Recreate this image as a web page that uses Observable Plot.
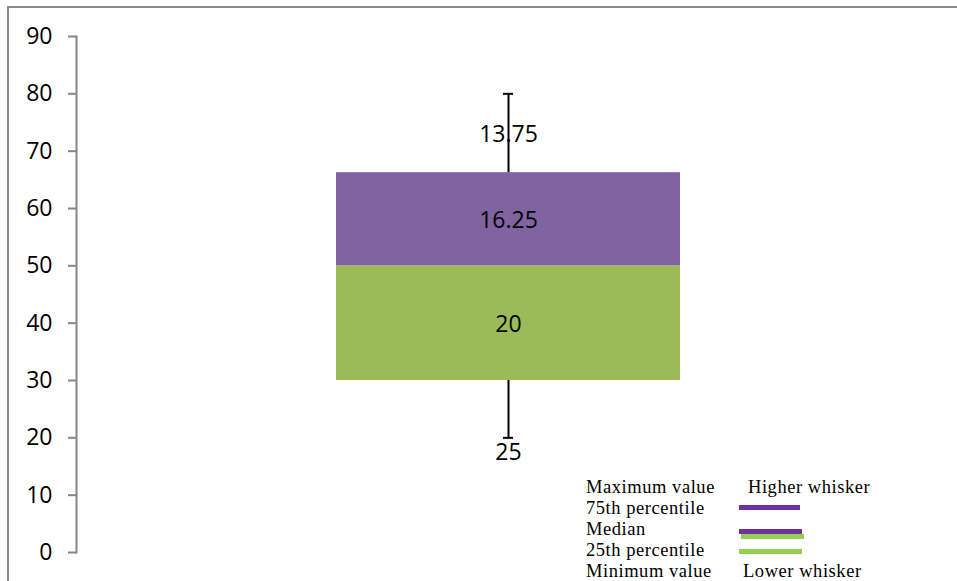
<!DOCTYPE html>
<html><head><meta charset="utf-8">
<script src="https://cdn.jsdelivr.net/npm/d3@7"></script>
<script src="https://cdn.jsdelivr.net/npm/@observablehq/plot@0.6"></script>
<style>
body{margin:0;background:#fff;}
#wrap{position:relative;width:957px;height:581px;overflow:hidden;background:#fff;}
#border{position:absolute;left:7px;top:6px;width:1000px;height:700px;border-left:2px solid #8a8a8a;border-top:2px solid #8a8a8a;}
#chart{position:absolute;left:0;top:0;}
.leg{position:absolute;font-family:"Liberation Serif","Times New Roman",serif;font-size:18.5px;letter-spacing:0.55px;line-height:21px;color:#000;white-space:nowrap;}
.sw{position:absolute;height:5px;}
</style></head>
<body>
<div id="wrap">
  <div id="border"></div>
  <div id="chart"></div>
</div>
<script>
// ---- data ----
const category = ["Box"];
const minimumValue = [20];
const percentile25 = [30];
const medianValue = [50];
const percentile75 = [66.25];
const maximumValue = [80];
const segmentLabels = ["13.75", "16.25", "20", "25"];
const yTicks = [0, 10, 20, 30, 40, 50, 60, 70, 80, 90];
const legendLabels = ["Maximum value", "75th percentile", "Median", "25th percentile", "Minimum value"];
const whiskerLabels = ["Higher whisker", "Lower whisker"];

// ---- styles ----
const purple = "#8064A2", green = "#9BBB59";
const legPurple = "#7030A0", legGreen = "#92D050";

const rows = category.map((c, i) => ({
  cat: c, min: minimumValue[i], q1: percentile25[i], med: medianValue[i], q3: percentile75[i], max: maximumValue[i]
}));
const labelRows = rows.flatMap(r => [
  {cat: r.cat, y: (r.q3 + r.max) / 2, text: segmentLabels[0], dy: 0},
  {cat: r.cat, y: (r.med + r.q3) / 2, text: segmentLabels[1], dy: 0},
  {cat: r.cat, y: (r.q1 + r.med) / 2, text: segmentLabels[2], dy: 0},
  {cat: r.cat, y: r.min, text: segmentLabels[3], dy: 15}
]);

const capInset = 167;
const chart = Plot.plot({
  width: 957, height: 581,
  marginLeft: 76, marginRight: 16, marginTop: 36, marginBottom: 29,
  style: {background: "transparent", fontFamily: "'Open Sans', sans-serif", fontSize: "23px", color: "#000"},
  x: {domain: category, padding: 0.43, axis: null},
  y: {domain: [0, 90], axis: null},
  marks: [
    Plot.axisY({ticks: yTicks, tickSize: 8, tickPadding: 16, stroke: "#868686", strokeWidth: 2, fill: "#000", label: null, fontSize: 23}),
    Plot.frame({anchor: "left", stroke: "#868686", strokeWidth: 2}),
    Plot.barY(rows, {x: "cat", y1: "q1", y2: "med", fill: green}),
    Plot.barY(rows, {x: "cat", y1: "med", y2: "q3", fill: purple}),
    Plot.text(labelRows.filter(d => d.dy === 0), {x: "cat", y: "y", text: "text", fill: "#000", fontSize: 23, dy: 1}),
    Plot.text(labelRows.filter(d => d.dy !== 0), {x: "cat", y: "y", text: "text", fill: "#000", fontSize: 23, dy: 15}),
    Plot.ruleX(rows, {x: "cat", y1: "q3", y2: "max", stroke: "#000", strokeWidth: 2}),
    Plot.ruleX(rows, {x: "cat", y1: "min", y2: "q1", stroke: "#000", strokeWidth: 2}),
    Plot.tickY(rows, {x: "cat", y: "max", stroke: "#000", strokeWidth: 2, insetLeft: capInset, insetRight: capInset}),
    Plot.tickY(rows, {x: "cat", y: "min", stroke: "#000", strokeWidth: 2, insetLeft: capInset, insetRight: capInset})
  ]
});
document.getElementById("chart").appendChild(chart);

// ---- legend (HTML) ----
const wrap = document.getElementById("wrap");
legendLabels.forEach((t, i) => {
  const d = document.createElement("div");
  d.className = "leg";
  d.style.left = "586px";
  d.style.top = (477 + i * 21) + "px";
  d.textContent = t;
  wrap.appendChild(d);
});
[[whiskerLabels[0], 748, 477], [whiskerLabels[1], 743, 477 + 4 * 21]].forEach(([t, x, y]) => {
  const d = document.createElement("div");
  d.className = "leg";
  d.style.left = x + "px";
  d.style.top = y + "px";
  d.textContent = t;
  wrap.appendChild(d);
});
[[legPurple, 739, 505, 61], [legGreen, 741, 534, 63], [legPurple, 739, 529, 63], [legGreen, 739, 549, 63]].forEach(([c, x, y, w]) => {
  const d = document.createElement("div");
  d.className = "sw";
  d.style.background = c;
  d.style.left = x + "px";
  d.style.top = y + "px";
  d.style.width = w + "px";
  wrap.appendChild(d);
});
</script>
</body></html>
